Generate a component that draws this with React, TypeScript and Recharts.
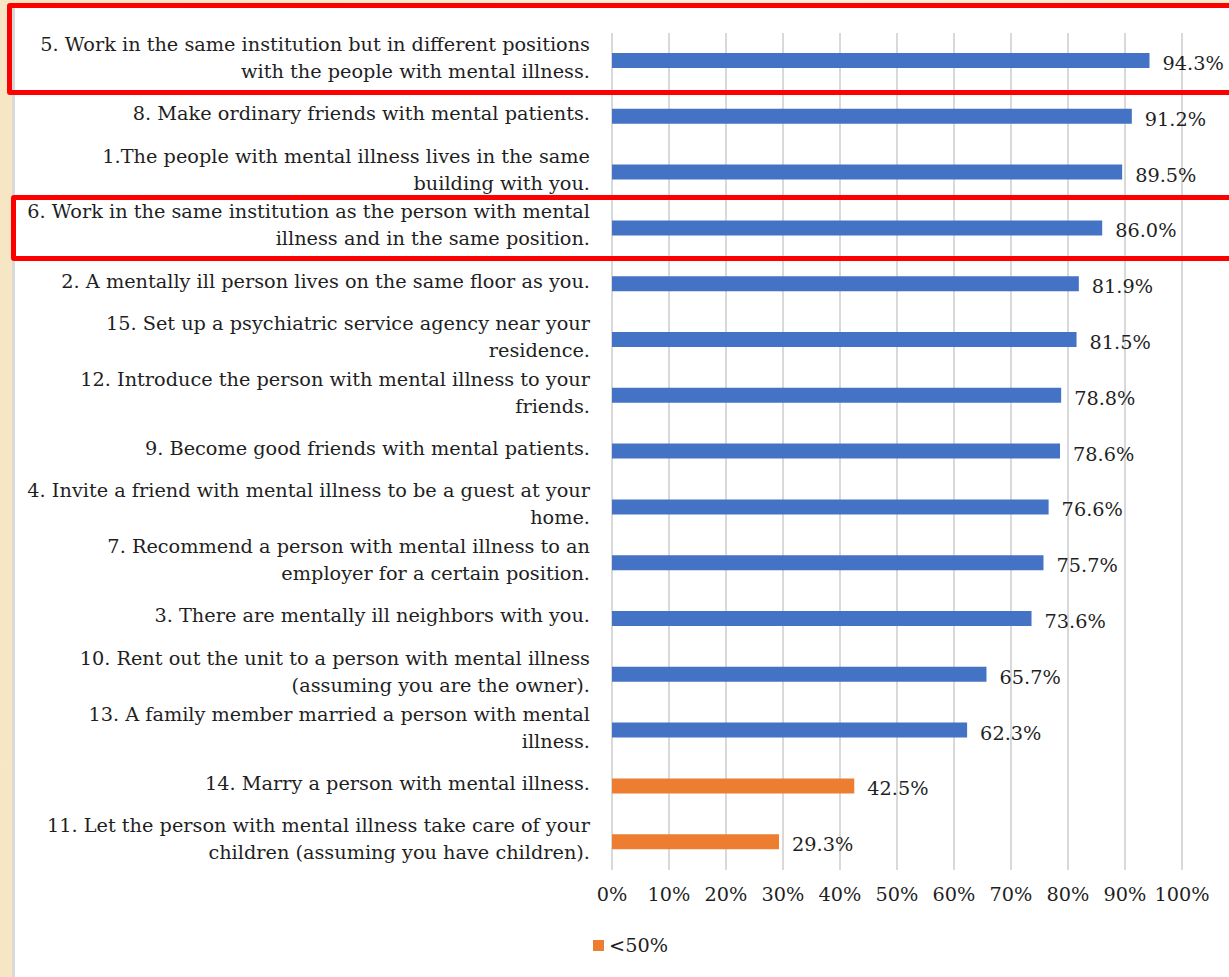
import React from "react";
import {
  Bar,
  BarChart,
  CartesianGrid,
  Cell,
  LabelList,
  Legend,
  XAxis,
  YAxis,
} from "recharts";

// Social distance items, ordered by share of respondents willing.
// Line breaks in the labels are kept as they wrap in the printed figure.
const ITEMS = [
  "5. Work in the same institution but in different positions\nwith the people with mental illness.",
  "8. Make ordinary friends with mental patients.",
  "1.The people with mental illness lives in the same\nbuilding with you.",
  "6. Work in the same institution as the person with mental\nillness and in the same position.",
  "2. A mentally ill person lives on the same floor as you.",
  "15. Set up a psychiatric service agency near your\nresidence.",
  "12. Introduce the person with mental illness to your\nfriends.",
  "9. Become good friends with mental patients.",
  "4. Invite a friend with mental illness to be a guest at your\nhome.",
  "7. Recommend a person with mental illness to an\nemployer for a certain position.",
  "3. There are mentally ill neighbors with you.",
  "10. Rent out the unit to a person with mental illness\n(assuming you are the owner).",
  "13. A family member married a person with mental\nillness.",
  "14. Marry a person with mental illness.",
  "11. Let the person with mental illness take care of your\nchildren (assuming you have children).",
];

const PERCENTS = [94.3, 91.2, 89.5, 86.0, 81.9, 81.5, 78.8, 78.6, 76.6, 75.7, 73.6, 65.7, 62.3, 42.5, 29.3];

const X_TICKS = [0, 10, 20, 30, 40, 50, 60, 70, 80, 90, 100];

const BLUE = "#4472c4";
const ORANGE = "#ed7d31";
const GRID = "#d9d9d9";
const INK = "#1f1f1f";
const FONT = "'DejaVu Serif', serif";
const FONT_SIZE = 19.3;

const data = ITEMS.map((item, i) => ({ item, value: PERCENTS[i] }));

// Multi-line, right-aligned category label.
function ItemTick(props: any) {
  const { x, y, payload } = props;
  const lines = String(payload.value).split("\n");
  const lineH = 27;
  const startY = y - ((lines.length - 1) * lineH) / 2 - 3.5;
  return (
    <text
      x={x - 14}
      y={startY}
      textAnchor="end"
      fontFamily={FONT}
      fontSize={FONT_SIZE}
      fill={INK}
      dominantBaseline="central"
    >
      {lines.map((line, i) => (
        <tspan key={i} x={x - 14} y={startY + i * lineH}>
          {line}
        </tspan>
      ))}
    </text>
  );
}

function ValueLabel(props: any) {
  const { x, y, width, height, value } = props;
  return (
    <text
      x={x + width + 13}
      y={y + height / 2 + 3}
      fontFamily={FONT}
      fontSize={FONT_SIZE}
      fill={INK}
      dominantBaseline="central"
    >
      {Number(value).toFixed(1)}%
    </text>
  );
}

function LegendContent() {
  return (
    <div
      style={{
        display: "flex",
        alignItems: "center",
        fontFamily: FONT,
        fontSize: FONT_SIZE,
        color: INK,
        paddingLeft: 593,
      }}
    >
      <span style={{ width: 11, height: 11, background: ORANGE, marginRight: 5 }} />
      <span>&lt;50%</span>
    </div>
  );
}

function Highlight({ top, left, height }: { top: number; left: number; height: number }) {
  return (
    <div
      style={{
        position: "absolute",
        top,
        left,
        width: 1260,
        height,
        border: "5px solid #ff0000",
        borderRadius: 3,
        boxSizing: "border-box",
        pointerEvents: "none",
      }}
    />
  );
}

export default function App() {
  return (
    <div
      style={{
        position: "absolute",
        left: 0,
        top: 0,
        width: 1229,
        height: 977,
        overflow: "hidden",
        background: "linear-gradient(90deg, #f7e6c4 0%, #fbf0da 60%, #f9ebcf 100%)",
      }}
    >
      <div
        style={{
          position: "absolute",
          left: 12,
          top: 4,
          right: 0,
          bottom: 0,
          background: "#ffffff",
          borderLeft: `3px solid ${GRID}`,
        }}
      />
      <div style={{ position: "absolute", left: 0, top: 0 }}>
        <BarChart
          width={1229}
          height={977}
          data={data}
          layout="vertical"
          margin={{ top: 33, right: 47, bottom: 20, left: 0 }}
          barCategoryGap={0}
        >
          <CartesianGrid horizontal={false} stroke={GRID} strokeWidth={2} />
          <XAxis
            type="number"
            domain={[0, 100]}
            ticks={X_TICKS}
            interval={0}
            tickFormatter={(v: number) => `${v}%`}
            tick={{ fontFamily: FONT, fontSize: FONT_SIZE, fill: INK }}
            axisLine={false}
            tickLine={false}
            tickMargin={11}
            height={64}
          />
          <YAxis
            type="category"
            dataKey="item"
            width={612}
            tick={<ItemTick />}
            axisLine={false}
            tickLine={false}
            interval={0}
          />
          <Legend verticalAlign="bottom" align="left" content={<LegendContent />} />
          <Bar dataKey="value" barSize={15} isAnimationActive={false}>
            {data.map((d) => (
              <Cell key={d.item} fill={d.value < 50 ? ORANGE : BLUE} />
            ))}
            <LabelList dataKey="value" content={<ValueLabel />} />
          </Bar>
        </BarChart>
      </div>
      <Highlight top={3} left={7} height={92} />
      <Highlight top={195} left={11} height={66} />
    </div>
  );
}
